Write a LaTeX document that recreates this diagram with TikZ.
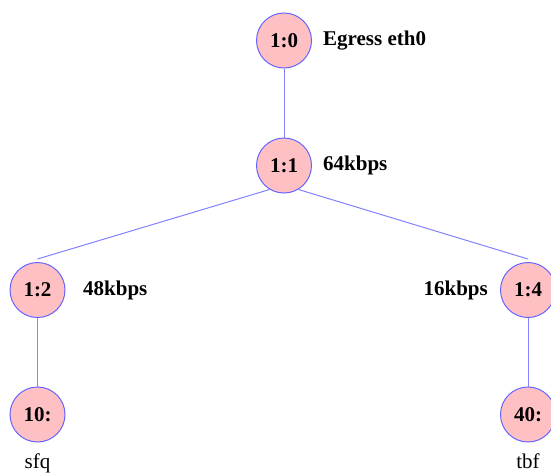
\documentclass[tikz,border=0pt]{standalone}
\usepackage{fontspec}
\setmainfont{Liberation Serif}
\definecolor{nodefill}{RGB}{255,192,196}
\definecolor{nodeline}{RGB}{100,100,255}
\definecolor{edgeline}{RGB}{130,130,255}
\tikzset{
  qnode/.style={circle, draw=nodeline, fill=nodefill, line width=1pt, minimum size=55pt, inner sep=0pt, font=\fontsize{21}{25}\selectfont\bfseries},
  sidelabel/.style={inner sep=0pt, font=\fontsize{21}{25}\selectfont\bfseries},
  leaflabel/.style={inner sep=0pt, anchor=base, font=\fontsize{21}{25}\selectfont},
  edge/.style={draw=edgeline, line width=1pt}
}
\begin{document}
\begin{tikzpicture}[x=1pt,y=-1pt]
\useasboundingbox (0,0) rectangle (551,475);
\node[qnode] (n10) at (284,40.5) {1:0};
\node[qnode] (n11) at (284,165.5) {1:1};
\node[qnode] (n12) at (37.5,290) {1:2};
\node[qnode] (n14) at (528,290) {1:4};
\node[qnode] (n100) at (37.5,414.5) {10:};
\node[qnode] (n400) at (528,414.5) {40:};
\node[sidelabel, anchor=west] (l10) at (323,40.5) {Egress eth0};
\node[sidelabel, anchor=west] (l11) at (323,165.5) {64kbps};
\node[sidelabel, anchor=west] (l12) at (83,290) {48kbps};
\node[sidelabel, anchor=east] (l14) at (488,290) {16kbps};
\node[leaflabel] (lsfq) at (37.5,468) {sfq};
\node[leaflabel] (ltbf) at (528,468) {tbf};
\draw[edge] (n10.south) -- (n11.north);
\draw[edge] (n11.239) -- ([yshift=3pt]n12.north);
\draw[edge] (n11.301) -- ([yshift=3pt]n14.north);
\draw[edge] (n12.south) -- (n100.north);
\draw[edge] (n14.south) -- (n400.north);
\end{tikzpicture}
\end{document}
